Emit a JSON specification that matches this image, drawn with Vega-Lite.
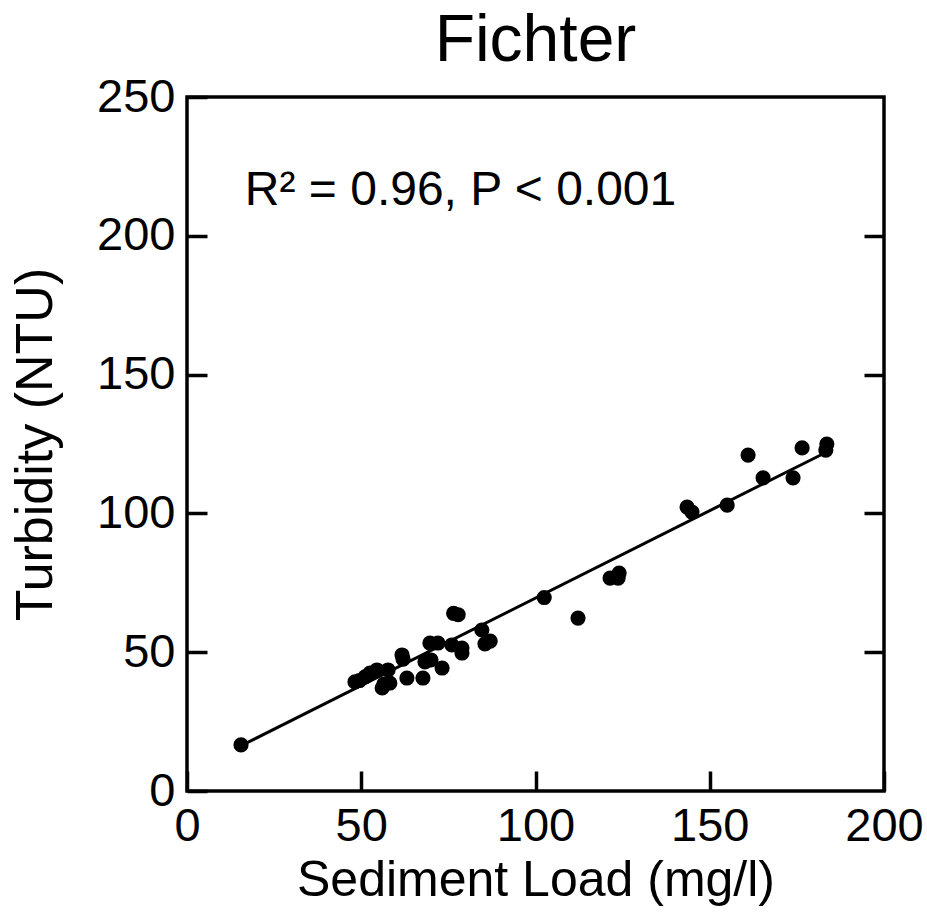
{
  "$schema": "https://vega.github.io/schema/vega-lite/v6.json",
  "width": 697,
  "height": 694,
  "autosize": {"type": "none"},
  "padding": {"left": 187, "top": 97, "right": 43, "bottom": 132},
  "background": "white",
  "config": {
    "font": "Liberation Sans",
    "view": {"stroke": "black", "strokeWidth": 3.5},
    "axis": {
      "domain": false,
      "ticks": true,
      "tickColor": "black",
      "tickWidth": 3.5,
      "tickSize": -20,
      "labelColor": "black",
      "labelFont": "Liberation Sans",
      "labelFontSize": 47,
      "titleFont": "Liberation Sans",
      "titleFontSize": 50,
      "titleFontWeight": "normal",
      "titleColor": "black",
      "grid": false
    }
  },
  "title": {
    "text": "Fichter",
    "fontSize": 66,
    "fontWeight": "normal",
    "font": "Liberation Sans",
    "color": "black",
    "anchor": "middle",
    "frame": "group",
    "baseline": "alphabetic",
    "offset": 31,
    "dy": 85
  },
  "datasets": {
    "pts": [
      {"load": 15.5, "turb": 16.6},
      {"load": 48.2, "turb": 39.3},
      {"load": 49.5, "turb": 39.8},
      {"load": 51.1, "turb": 41.1},
      {"load": 52.5, "turb": 42.5},
      {"load": 54.5, "turb": 43.6},
      {"load": 56.0, "turb": 37.1},
      {"load": 56.5, "turb": 38.5},
      {"load": 57.7, "turb": 43.6},
      {"load": 58.2, "turb": 38.9},
      {"load": 61.7, "turb": 49.0},
      {"load": 62.0, "turb": 47.5},
      {"load": 63.1, "turb": 40.7},
      {"load": 67.7, "turb": 40.7},
      {"load": 68.3, "turb": 46.5},
      {"load": 69.7, "turb": 53.3},
      {"load": 70.0, "turb": 47.2},
      {"load": 72.0, "turb": 53.3},
      {"load": 73.2, "turb": 44.3},
      {"load": 76.5, "turb": 64.0},
      {"load": 77.8, "turb": 63.5},
      {"load": 76.0, "turb": 52.6},
      {"load": 78.9, "turb": 49.7},
      {"load": 78.9, "turb": 51.5},
      {"load": 84.6, "turb": 58.0},
      {"load": 85.5, "turb": 53.0},
      {"load": 87.0, "turb": 54.0},
      {"load": 102.5, "turb": 69.7},
      {"load": 112.2, "turb": 62.3},
      {"load": 121.4, "turb": 76.7},
      {"load": 124.0, "turb": 78.5},
      {"load": 123.7, "turb": 76.7},
      {"load": 143.5, "turb": 102.3},
      {"load": 144.9, "turb": 100.5},
      {"load": 155.0, "turb": 103.0},
      {"load": 161.0, "turb": 121.0},
      {"load": 165.3, "turb": 112.8},
      {"load": 173.9, "turb": 112.8},
      {"load": 176.5, "turb": 123.6},
      {"load": 183.6, "turb": 125.0},
      {"load": 183.3, "turb": 122.8}
    ],
    "fit": [
      {"load": 15.5, "turb": 16.3},
      {"load": 184.0, "turb": 122.4}
    ],
    "note": [
      {"load": 16.6, "turb": 211, "label": "R² = 0.96, P < 0.001"}
    ]
  },
  "layer": [
    {
      "data": {"name": "pts"},
      "mark": {"type": "circle", "size": 230, "color": "black", "opacity": 1},
      "encoding": {
        "x": {
          "field": "load", "type": "quantitative",
          "scale": {"domain": [0, 200], "nice": false, "zero": false},
          "axis": {"orient": "bottom", "values": [0, 50, 100, 150, 200], "labelPadding": 32, "title": "Sediment Load (mg/l)", "titlePadding": 6, "labelFlush": false}
        },
        "y": {
          "field": "turb", "type": "quantitative",
          "scale": {"domain": [0, 250], "nice": false, "zero": false},
          "axis": {"orient": "left", "values": [0, 50, 100, 150, 200, 250], "labelPadding": 32, "title": "Turbidity (NTU)", "titleFontSize": 52, "titlePadding": 34, "labelFlush": false}
        }
      }
    },
    {
      "data": {"name": "fit"},
      "mark": {"type": "line", "color": "black", "strokeWidth": 3},
      "encoding": {
        "x": {"field": "load", "type": "quantitative", "scale": {"domain": [0, 200], "nice": false, "zero": false}},
        "y": {
          "field": "turb", "type": "quantitative",
          "scale": {"domain": [0, 250], "nice": false, "zero": false},
          "axis": {"orient": "right", "values": [50, 100, 150, 200], "labels": false, "title": null}
        }
      }
    },
    {
      "data": {"name": "note"},
      "mark": {"type": "text", "fontSize": 48, "align": "left", "baseline": "alphabetic", "color": "black", "font": "Liberation Sans"},
      "encoding": {
        "x": {"field": "load", "type": "quantitative", "scale": {"domain": [0, 200], "nice": false, "zero": false}},
        "y": {"field": "turb", "type": "quantitative", "scale": {"domain": [0, 250], "nice": false, "zero": false}, "axis": null},
        "text": {"field": "label"}
      }
    }
  ],
  "resolve": {"axis": {"y": "independent"}}
}
